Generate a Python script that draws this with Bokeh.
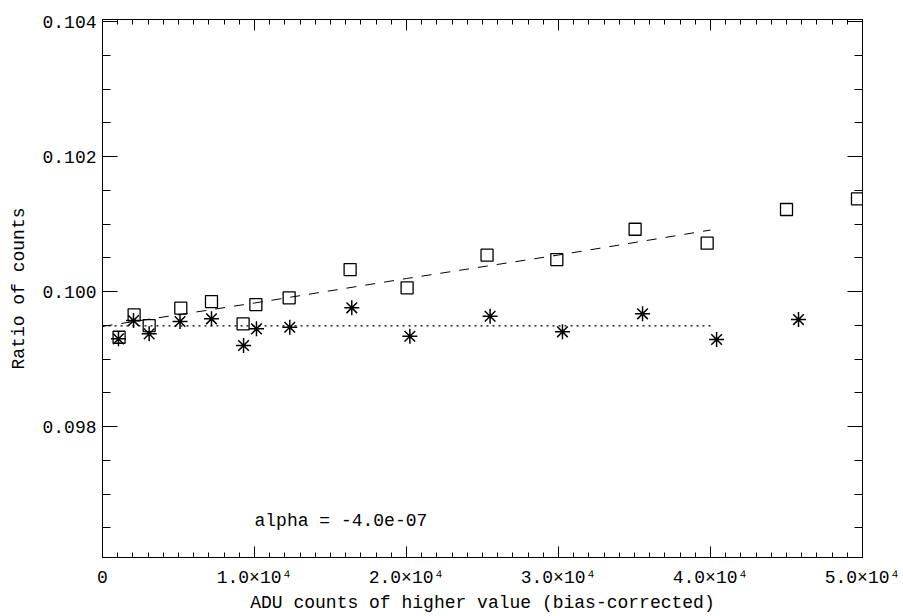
from bokeh.plotting import figure
from bokeh.models import Range1d, LinearAxis, FixedTicker, NumeralTickFormatter
from bokeh.core.properties import value
from bokeh.embed import file_html
from bokeh.resources import INLINE

# --- data ---
sq_x = [1090, 2080, 3070, 5150, 7170, 9250, 10090, 12280, 16290, 20040,
        25300, 29890, 35040, 39780, 45000, 49670]
sq_y = [0.099323, 0.099655, 0.099496, 0.099753, 0.099852, 0.099521, 0.099807,
        0.099907, 0.100326, 0.100055, 0.100538, 0.100474, 0.100923, 0.100716,
        0.101215, 0.101373]

st_x = [1050, 2040, 3070, 5100, 7170, 9280, 10130, 12320, 16400, 20220,
        25500, 30260, 35530, 40400, 45790]
st_y = [0.099299, 0.099570, 0.099373, 0.099556, 0.099596, 0.099200, 0.099447,
        0.099471, 0.099759, 0.099338, 0.099634, 0.099403, 0.099670, 0.099289,
        0.099585]

fit_x = [0, 10000, 20000, 30000, 40000]
fit_y = [0.099484, 0.099830, 0.100193, 0.100541, 0.100911]

flat_x = [0, 40000]
flat_y = [0.09949, 0.09949]

x_ticks = [0, 10000, 20000, 30000, 40000, 50000]
x_tick_labels = ["0", "1.0×10⁴", "2.0×10⁴", "3.0×10⁴", "4.0×10⁴", "5.0×10⁴"]
x_minor = list(range(0, 50001, 1000))
y_ticks = [0.098, 0.100, 0.102, 0.104]
y_minor = [0.0960 + 0.0005 * i for i in range(17)]

note_text = "alpha = -4.0e-07"
note_x = 10000
note_y = 0.09660

FONT = "Liberation Mono"
FS = "18px"

p = figure(width=903, height=616, output_backend="svg", toolbar_location=None,
           x_range=Range1d(0, 50000), y_range=Range1d(0.09606, 0.10403),
           min_border_left=102, min_border_right=41, min_border_top=19,
           min_border_bottom=59)
p.background_fill_color = "white"
p.border_fill_color = "white"
p.outline_line_color = "black"
p.xgrid.visible = False
p.ygrid.visible = False

xt = FixedTicker(ticks=x_ticks, minor_ticks=x_minor)
yt = FixedTicker(ticks=y_ticks, minor_ticks=y_minor)

def style_x(ax):
    ax.ticker = xt
    ax.major_tick_in = 11
    ax.major_tick_out = 0
    ax.minor_tick_in = 5
    ax.minor_tick_out = 0
    ax.axis_line_color = "black"
    ax.major_tick_line_color = "black"
    ax.minor_tick_line_color = "black"

def style_y(ax):
    ax.ticker = yt
    ax.major_tick_in = 15
    ax.major_tick_out = 0
    ax.minor_tick_in = 8
    ax.minor_tick_out = 0
    ax.axis_line_color = "black"
    ax.major_tick_line_color = "black"
    ax.minor_tick_line_color = "black"

xa = p.xaxis[0]
style_x(xa)
xa.major_label_overrides = {t: l for t, l in zip(x_ticks, x_tick_labels)}
xa.major_label_text_font = FONT
xa.major_label_text_font_size = FS
xa.major_label_text_color = "black"
xa.major_label_standoff = 10
xa.axis_label = "ADU counts of higher value (bias-corrected)"
xa.axis_label_text_font = FONT
xa.axis_label_text_font_size = FS
xa.axis_label_text_font_style = "normal"
xa.axis_label_text_color = "black"
xa.axis_label_standoff = 2

ya = p.yaxis[0]
style_y(ya)
ya.formatter = NumeralTickFormatter(format="0.000")
ya.major_label_text_font = FONT
ya.major_label_text_font_size = FS
ya.major_label_text_color = "black"
ya.major_label_standoff = 6
ya.axis_label = "Ratio of counts"
ya.axis_label_text_font = FONT
ya.axis_label_text_font_size = FS
ya.axis_label_text_font_style = "normal"
ya.axis_label_text_color = "black"
ya.axis_label_standoff = 10

top = LinearAxis()
style_x(top)
top.major_label_overrides = {t: "" for t in x_ticks}
top.major_label_standoff = 0
p.add_layout(top, "above")

right = LinearAxis()
style_y(right)
right.major_label_overrides = {t: "" for t in y_ticks}
right.major_label_standoff = 0
p.add_layout(right, "right")

p.line(fit_x, fit_y, line_color="black", line_width=1, line_dash="10 9")
p.line(flat_x, flat_y, line_color="black", line_width=1.3, line_dash="2 4")

p.scatter(sq_x, sq_y, marker="square", size=12, fill_color=None,
          line_color="black", line_width=1.3)
p.scatter(st_x, st_y, marker="asterisk", size=15, line_color="black",
          line_width=1.5)

p.text(x=[note_x], y=[note_y], text=[note_text], text_font=value(FONT),
       text_font_size=FS, text_color="black", text_align="left",
       text_baseline="alphabetic")

open("out.html", "w").write(file_html(p, INLINE))
